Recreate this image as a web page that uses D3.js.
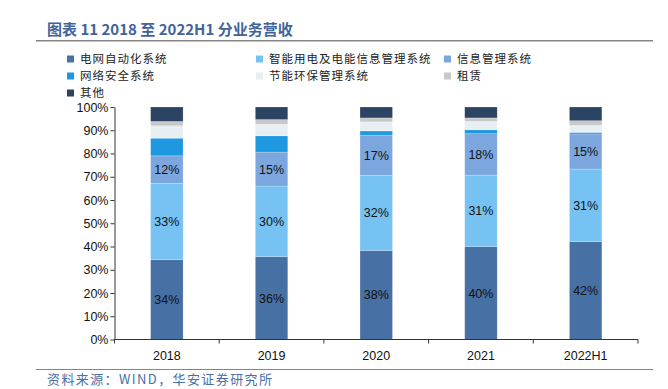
<!DOCTYPE html>
<html><head><meta charset="utf-8">
<script src="https://cdn.jsdelivr.net/npm/d3@7"></script>
<style>
body{margin:0;background:#fff;}
svg{display:block;font-family:"Liberation Sans",Arial,sans-serif;}
</style></head>
<body><svg id="c" width="668" height="389"></svg>
<script>
const categories = ["2018","2019","2020","2021","2022H1"];
const seriesNames = ["电网自动化系统","智能用电及电能信息管理系统","信息管理系统","网络安全系统","节能环保管理系统","租赁","其他"];
const colors = ["#4770a5","#76c3f3","#7ca7de","#1e98e0","#e8eff2","#c8c8c8","#2b4464"];
const grid = [34.3, 35.6, 38.3, 39.9, 42.1];
const smartPower = [32.9, 30.4, 32.3, 30.8, 31.2];
const infoMgmt = [11.8, 14.6, 17.3, 17.8, 15.1];
const netSecurity = [7.6, 7.0, 1.8, 1.7, 0.7];
const energySaving = [5.3, 5.0, 3.9, 3.6, 3.0];
const leasing = [1.9, 2.0, 1.7, 1.5, 2.0];
const others = [6.2, 5.4, 4.7, 4.7, 5.9];
const yTicks = [0,10,20,30,40,50,60,70,80,90,100];
const labeledSeries = 3;

const seriesValues = [grid, smartPower, infoMgmt, netSecurity, energySaving, leasing, others];
const rows = categories.map((c,i)=>{const r={cat:c}; seriesNames.forEach((s,j)=>r[s]=seriesValues[j][i]); return r;});
const stack = d3.stack().keys(seriesNames)(rows);

const svg = d3.select("#c");
const x = d3.scaleBand().domain(categories).range([114.5,638]).paddingInner(0.69).paddingOuter(0.345);
const xOuter = d3.scaleBand().domain(categories).range([114.5,638]);
const y = d3.scaleLinear().domain([0,100]).range([339.5,107]);

// title
svg.append("text").attr("x",47).attr("y",35).attr("font-size",15).attr("font-weight","bold")
  .attr("fill","#41639b").attr("font-family","'Noto Sans CJK SC','Liberation Sans',sans-serif")
  .text("图表 11 2018 至 2022H1 分业务营收");
svg.append("line").attr("x1",36).attr("x2",653).attr("y1",40.8).attr("y2",40.8).attr("stroke","#858585").attr("stroke-width",1.5);

// legend
const legPos = [[70,59],[259,59],[447,59],[70,76],[259,76],[447,76],[70,93]];
seriesNames.forEach((s,j)=>{
  const [lx,ly] = legPos[j];
  svg.append("rect").attr("x",lx-3).attr("y",ly-3.5).attr("width",7).attr("height",7).attr("fill",colors[j]);
  svg.append("text").attr("x",lx+10).attr("y",ly+4).attr("font-size",11.5).attr("letter-spacing",1)
    .attr("fill","#222").attr("font-family","'Noto Sans CJK SC',sans-serif").text(s);
});

// bars
const g = svg.append("g");
stack.forEach((layer,j)=>{
  g.selectAll(null).data(layer).enter().append("rect")
    .attr("x",d=>x(d.data.cat)).attr("width",x.bandwidth())
    .attr("y",d=>y(d[1])).attr("height",d=>y(d[0])-y(d[1]))
    .attr("fill",colors[j]).attr("stroke","#ffffff").attr("stroke-opacity",0.35).attr("stroke-width",0.6);
  if(j<labeledSeries){
    g.selectAll(null).data(layer).enter().append("text")
      .attr("x",d=>x(d.data.cat)+x.bandwidth()/2).attr("y",d=>y((d[0]+d[1])/2)+4.5)
      .attr("text-anchor","middle").attr("font-size",12.5).attr("fill","#111")
      .text(d=>Math.round(d[1]-d[0])+"%");
  }
});

// y axis
const yAxis = d3.axisLeft(y).tickValues(yTicks).tickFormat(d=>d+"%").tickSize(4).tickSizeOuter(0);
const ya = svg.append("g").attr("transform","translate(114.5,0)").call(yAxis);
ya.select(".domain").attr("stroke","#333");
ya.selectAll(".tick line").attr("stroke","#333");
ya.selectAll("text").attr("font-size",12.5).attr("fill","#111").attr("x",-6).attr("font-family","'Liberation Sans',Arial,sans-serif");

// x axis
const xa = svg.append("g").attr("transform","translate(0,339.5)");
xa.append("line").attr("x1",114.5).attr("x2",638).attr("stroke","#333");
const bounds = categories.map(c=>xOuter(c)).concat([xOuter.range()[1]]);
xa.selectAll(null).data(bounds).enter().append("line")
  .attr("x1",d=>d).attr("x2",d=>d).attr("y1",0).attr("y2",4).attr("stroke","#333");
xa.selectAll(null).data(categories).enter().append("text")
  .attr("x",d=>xOuter(d)+xOuter.bandwidth()/2).attr("y",20).attr("text-anchor","middle")
  .attr("font-size",12.5).attr("fill","#111").text(d=>d);

// source
svg.append("line").attr("x1",36).attr("x2",653).attr("y1",369.5).attr("y2",369.5).attr("stroke","#858585").attr("stroke-width",1);
svg.append("text").attr("x",47).attr("y",384).attr("font-size",13).attr("letter-spacing",1.4).attr("fill","#4a6fa8")
  .attr("font-family","'Noto Sans CJK SC',sans-serif").text("资料来源：WIND，华安证券研究所");
</script></body></html>
